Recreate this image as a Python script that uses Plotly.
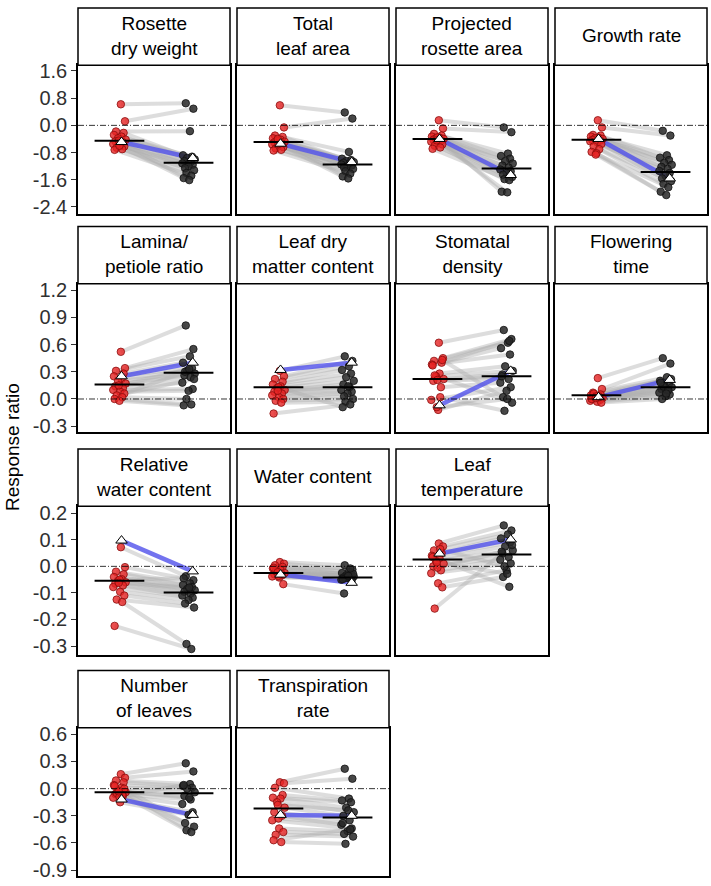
import plotly.graph_objects as go

W, H = 711, 886

# ---------------- data ----------------
titles = ["Rosette<br>dry weight", "Total<br>leaf area", "Projected<br>rosette area", "Growth rate",
          "Lamina/<br>petiole ratio", "Leaf dry<br>matter content", "Stomatal<br>density", "Flowering<br>time",
          "Relative<br>water content", "Water content", "Leaf<br>temperature",
          "Number<br>of leaves", "Transpiration<br>rate"]
panel_row = [0, 0, 0, 0, 1, 1, 1, 1, 2, 2, 2, 3, 3]
panel_col = [0, 1, 2, 3, 0, 1, 2, 3, 0, 1, 2, 0, 1]

rdw_red = [0.62, 0.12, -0.18, -0.22, -0.28, -0.33, -0.38, -0.42, -0.47, -0.50, -0.55, -0.58, -0.62, -0.66, -0.70, -0.72, -0.60, -0.45]
rdw_black = [0.65, 0.49, -0.17, -0.88, -0.92, -0.96, -1.00, -1.05, -1.08, -1.12, -1.16, -1.20, -1.26, -1.32, -1.40, -1.48, -1.55, -1.61]
tla_red = [0.59, -0.06, -0.30, -0.34, -0.38, -0.42, -0.45, -0.48, -0.50, -0.53, -0.56, -0.60, -0.64, -0.68, -0.72, -0.74, -0.55, -0.40]
tla_black = [0.38, 0.20, -0.78, -0.98, -1.02, -1.05, -1.08, -1.10, -1.12, -1.15, -1.18, -1.20, -1.24, -1.28, -1.35, -1.42, -1.50, -1.56]
pra_red = [0.15, -0.09, -0.25, -0.30, -0.33, -0.36, -0.38, -0.40, -0.42, -0.45, -0.48, -0.52, -0.56, -0.60, -0.65, -0.69, -0.35, -0.44]
pra_black = [-0.06, -0.20, -0.83, -0.90, -0.98, -1.05, -1.12, -1.18, -1.24, -1.30, -1.35, -1.40, -1.45, -1.52, -1.58, -1.61, -1.95, -1.97]
gr_red = [0.15, -0.06, -0.28, -0.30, -0.33, -0.36, -0.38, -0.40, -0.43, -0.45, -0.47, -0.49, -0.55, -0.62, -0.70, -0.78, -0.82, -0.86]
gr_black = [-0.16, -0.30, -0.88, -0.95, -1.02, -1.10, -1.16, -1.22, -1.28, -1.34, -1.40, -1.48, -1.56, -1.64, -1.72, -1.82, -1.95, -2.05]
lpr_red = [0.52, 0.34, 0.31, 0.28, 0.25, 0.22, 0.20, 0.17, 0.14, 0.12, 0.10, 0.08, 0.06, 0.04, 0.02, 0.00, -0.02, 0.15]
lpr_black = [0.81, 0.55, 0.47, 0.40, 0.34, 0.31, 0.28, 0.26, 0.24, 0.18, 0.11, 0.09, 0.30, 0.22, 0.00, -0.06, -0.07, 0.33]
ldmc_red = [0.31, 0.25, 0.22, 0.19, 0.16, 0.14, 0.12, 0.10, 0.08, 0.06, 0.04, 0.02, 0.00, -0.02, -0.04, -0.16, 0.13, 0.09]
ldmc_black = [0.47, 0.42, 0.36, 0.32, 0.28, 0.24, 0.20, 0.16, 0.13, 0.10, 0.08, 0.06, 0.03, 0.00, -0.03, -0.06, -0.09, 0.14]
sd_red = [0.62, 0.45, 0.42, 0.40, 0.38, 0.28, 0.25, 0.22, 0.20, 0.13, -0.01, -0.12, 0.43, 0.26, 0.02, 0.37, 0.21, -0.09]
sd_black = [0.76, 0.66, 0.62, 0.56, 0.49, 0.36, 0.31, 0.27, 0.22, 0.18, 0.13, 0.09, 0.02, -0.04, -0.13, 0.64, 0.25, 0.00]
ft_red = [0.23, 0.11, 0.07, 0.05, 0.04, 0.03, 0.02, 0.01, 0.00, -0.01, -0.02, -0.03, -0.04, 0.06, 0.02, 0.00, 0.03, 0.01]
ft_black = [0.45, 0.39, 0.24, 0.20, 0.17, 0.15, 0.13, 0.11, 0.09, 0.07, 0.05, 0.03, 0.00, 0.22, 0.14, 0.10, 0.18, 0.06]
rwc_red = [0.072, -0.003, -0.020, -0.030, -0.040, -0.048, -0.055, -0.060, -0.065, -0.072, -0.078, -0.096, -0.110, -0.125, -0.134, -0.224, -0.050, -0.062]
rwc_black = [-0.037, -0.052, -0.064, -0.070, -0.078, -0.085, -0.090, -0.096, -0.102, -0.110, -0.118, -0.127, -0.140, -0.155, -0.292, -0.311, -0.045, -0.080]
wc_red = [0.016, 0.010, 0.004, -0.002, -0.008, -0.014, -0.020, -0.025, -0.030, -0.034, -0.038, -0.042, -0.067, -0.018, -0.028, -0.005, -0.036, -0.022]
wc_black = [0.004, -0.012, -0.020, -0.025, -0.030, -0.034, -0.038, -0.042, -0.046, -0.050, -0.052, -0.040, -0.102, -0.028, -0.044, -0.008, -0.048, -0.036]
lt_red = [0.086, 0.075, 0.060, 0.050, 0.040, 0.030, 0.020, 0.010, 0.000, -0.015, -0.026, -0.064, -0.079, -0.159, 0.065, 0.035, -0.005, 0.015]
lt_black = [0.154, 0.135, 0.120, 0.105, 0.090, 0.075, 0.060, 0.049, 0.035, 0.025, 0.011, -0.015, -0.040, 0.080, 0.000, -0.077, 0.055, -0.028]
nl_red = [0.16, 0.12, 0.09, 0.07, 0.04, 0.01, -0.02, -0.04, -0.06, -0.08, -0.10, -0.15, 0.00, -0.05, -0.07, 0.03, -0.09, -0.03]
nl_black = [0.28, 0.19, 0.05, 0.03, 0.01, 0.00, -0.04, -0.08, -0.12, -0.17, -0.26, -0.29, -0.38, -0.42, -0.46, -0.48, 0.04, -0.10]
tr_red = [0.07, 0.06, 0.01, -0.07, -0.10, -0.11, -0.15, -0.21, -0.26, -0.30, -0.35, -0.44, -0.48, -0.51, -0.59, -0.57, -0.33, -0.18]
tr_black = [0.22, 0.11, -0.11, -0.13, -0.15, -0.21, -0.26, -0.30, -0.35, -0.40, -0.44, -0.47, -0.50, -0.53, -0.61, -0.45, -0.38, -0.24]

red_series = [rdw_red, tla_red, pra_red, gr_red, lpr_red, ldmc_red, sd_red, ft_red, rwc_red, wc_red, lt_red, nl_red, tr_red]
black_series = [rdw_black, tla_black, pra_black, gr_black, lpr_black, ldmc_black, sd_black, ft_black, rwc_black, wc_black, lt_black, nl_black, tr_black]

red_mean = [-0.45, -0.49, -0.40, -0.42, 0.16, 0.13, 0.22, 0.04, -0.054, -0.025, 0.026, -0.04, -0.22]
black_mean = [-1.10, -1.15, -1.27, -1.37, 0.29, 0.13, 0.25, 0.13, -0.098, -0.042, 0.045, -0.05, -0.32]
red_ref = [-0.49, -0.54, -0.40, -0.40, 0.25, 0.32, -0.07, 0.02, 0.097, -0.031, 0.048, -0.12, -0.29]
black_ref = [-0.96, -1.08, -1.46, -1.56, 0.40, 0.40, 0.31, 0.21, -0.019, -0.062, 0.101, -0.29, -0.30]

# horizontal jitter offsets of the points
red_jit = [0.02, 0.08, -0.05, 0.06, -0.08, 0.03, -0.02, 0.09, -0.06, 0.05, -0.09, 0.01, 0.07, -0.04, 0.04, -0.07, 0.00, -0.01]
black_jit = [-0.04, 0.07, 0.02, -0.08, 0.05, -0.02, 0.09, -0.06, 0.03, -0.09, 0.06, 0.00, -0.05, 0.08, -0.03, 0.04, -0.07, 0.01]

row_ticks = [[-2.4, -1.6, -0.8, 0.0, 0.8, 1.6],
             [-0.3, 0.0, 0.3, 0.6, 0.9, 1.2],
             [-0.3, -0.2, -0.1, 0.0, 0.1, 0.2],
             [-0.9, -0.6, -0.3, 0.0, 0.3, 0.6]]
row_ticktext = [["-2.4", "-1.6", "-0.8", "0.0", "0.8", "1.6"],
                ["-0.3", "0.0", "0.3", "0.6", "0.9", "1.2"],
                ["-0.3", "-0.2", "-0.1", "0.0", "0.1", "0.2"],
                ["-0.9", "-0.6", "-0.3", "0.0", "0.3", "0.6"]]
row_range = [[-2.595, 1.766], [-0.365, 1.269], [-0.332, 0.226], [-0.966, 0.673]]
y_title = "Response ratio"

# ---------------- layout geometry (pixels) ----------------
col_x = [(78, 230), (237, 389), (396, 548), (555, 707)]
strip_top = [3, 224, 449, 673]
strip_h = 58
plot_h = 150

FONT = "Liberation Sans, Arial, sans-serif"
X_RED, X_BLACK = 1, 2
BAR_HALF = 0.36

fig = go.Figure()
shapes = []
annotations = []

for i in range(len(titles)):
    r, c = panel_row[i], panel_col[i]
    n = i + 1
    xa = "x" if n == 1 else f"x{n}"
    ya = "y" if n == 1 else f"y{n}"
    x0, x1 = col_x[c]
    st = strip_top[r]
    pt = st + strip_h
    pb = pt + plot_h

    fig.layout[f"xaxis{'' if n == 1 else n}"] = dict(
        domain=[x0 / W, x1 / W], anchor=ya, range=[0.4, 2.6],
        showgrid=False, zeroline=False, showticklabels=False, ticks="",
        showline=True, mirror=True, linecolor="black", linewidth=1.5, fixedrange=True)
    yd = dict(domain=[1 - pb / H, 1 - pt / H], anchor=xa, range=row_range[r],
              showgrid=False, zeroline=False, showline=True, mirror=True,
              linecolor="black", linewidth=1.5, fixedrange=True)
    if c == 0:
        yd.update(tickmode="array", tickvals=row_ticks[r], ticktext=row_ticktext[r],
                  ticks="outside", ticklen=5, tickwidth=1, tickcolor="#333333",
                  tickfont=dict(family=FONT, size=20, color="#303030"))
    else:
        yd.update(showticklabels=False, ticks="")
    fig.layout[f"yaxis{'' if n == 1 else n}"] = yd

    reds = red_series[i]
    blacks = black_series[i]

    # paired grey lines
    for k in range(len(reds)):
        fig.add_trace(go.Scatter(
            x=[X_RED + red_jit[k], X_BLACK + black_jit[k]], y=[reds[k], blacks[k]],
            mode="lines", line=dict(color="rgba(175,175,175,0.42)", width=4),
            xaxis=xa, yaxis=ya, hoverinfo="skip", showlegend=False))
    # reference genotype line
    fig.add_trace(go.Scatter(
        x=[X_RED + 0.03, X_BLACK + 0.06], y=[red_ref[i], black_ref[i]],
        mode="lines", line=dict(color="rgba(80,80,235,0.8)", width=4.5),
        xaxis=xa, yaxis=ya, hoverinfo="skip", showlegend=False))
    # points
    fig.add_trace(go.Scatter(
        x=[X_RED + j for j in red_jit[:len(reds)]], y=reds, mode="markers",
        marker=dict(size=7.5, color="rgba(230,35,35,0.8)", line=dict(color="#8a0d0d", width=0.8)),
        xaxis=xa, yaxis=ya, showlegend=False))
    fig.add_trace(go.Scatter(
        x=[X_BLACK + j for j in black_jit[:len(blacks)]], y=blacks, mode="markers",
        marker=dict(size=7.5, color="rgba(40,40,40,0.85)", line=dict(color="#111111", width=0.8)),
        xaxis=xa, yaxis=ya, showlegend=False))
    # mean bars
    for xc, m in ((X_RED, red_mean[i]), (X_BLACK, black_mean[i])):
        fig.add_trace(go.Scatter(
            x=[xc - BAR_HALF, xc + BAR_HALF], y=[m, m], mode="lines",
            line=dict(color="black", width=2), xaxis=xa, yaxis=ya,
            hoverinfo="skip", showlegend=False))
    # reference triangles
    fig.add_trace(go.Scatter(
        x=[X_RED + 0.03, X_BLACK + 0.06], y=[red_ref[i], black_ref[i]], mode="markers",
        marker=dict(symbol="triangle-up", size=10, color="white", line=dict(color="black", width=1)),
        xaxis=xa, yaxis=ya, showlegend=False))

    # zero line
    shapes.append(dict(type="line", xref=f"{xa} domain", yref=ya, x0=0, x1=1, y0=0, y1=0,
                       line=dict(color="black", width=0.8, dash="6px,2px,1px,2px"), layer="above"))
    # strip box
    shapes.append(dict(type="rect", xref="paper", yref="paper",
                       x0=x0 / W, x1=x1 / W, y0=1 - pt / H, y1=1 - st / H,
                       line=dict(color="black", width=1.5), fillcolor="white"))
    cy = st + strip_h / 2 - 1
    annotations.append(dict(text=titles[i], x=(x0 + x1) / 2 / W, y=1 - cy / H, xref="paper", yref="paper",
                            showarrow=False, xanchor="center", yanchor="middle",
                            font=dict(family=FONT, size=19, color="black")))

annotations.append(dict(text=y_title, x=13 / W, y=1 - 447 / H, xref="paper", yref="paper",
                        showarrow=False, textangle=-90, xanchor="center", yanchor="middle",
                        font=dict(family=FONT, size=19, color="black")))

fig.update_layout(width=W, height=H, margin=dict(l=0, r=0, t=0, b=0),
                  paper_bgcolor="white", plot_bgcolor="white",
                  shapes=shapes, annotations=annotations, showlegend=False)

fig.write_html("out.html", config={"displayModeBar": False},
               post_script="document.body.style.margin='0';document.body.style.overflow='hidden';")
